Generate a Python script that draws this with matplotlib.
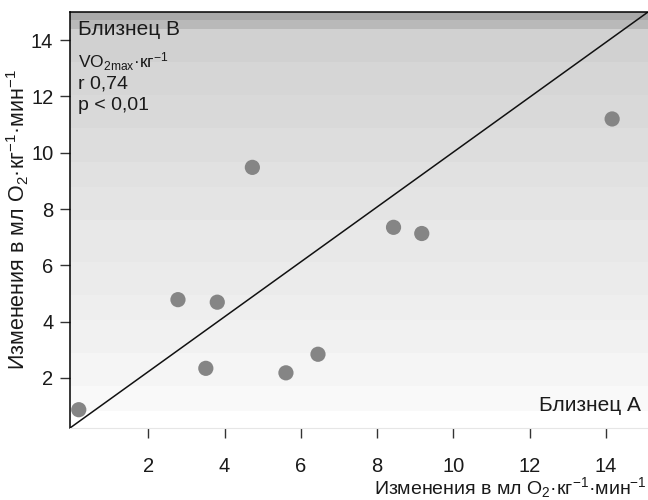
import matplotlib.pyplot as plt
import numpy as np

plt.rcParams['font.family'] = ['Liberation Sans', 'DejaVu Sans']
plt.rcParams['mathtext.fontset'] = 'custom'
plt.rcParams['mathtext.rm'] = 'Liberation Sans'
plt.rcParams['mathtext.it'] = 'Liberation Sans'

# изменения VO2max у близнецов
twin_a = [0.18, 2.78, 3.81, 3.51, 4.73, 5.61, 6.45, 8.43, 9.17, 14.16]
twin_b = [0.87, 4.78, 4.69, 2.34, 9.48, 2.18, 2.84, 7.35, 7.13, 11.2]
ticks = [2, 4, 6, 8, 10, 12, 14]

# полосы фона (границы и оттенки)
band_edges = [0.22, 0.83, 1.72, 2.89, 4.07, 4.95, 6.12, 7.61, 8.79, 9.67,
              10.88, 12.05, 13.23, 14.4, 14.72, 15.0]
band_grays = ['#ffffff', '#f9f9f9', '#f5f5f5', '#f1f1f1', '#eeeeee', '#ebebeb',
              '#e8e8e8', '#e4e4e4', '#e1e1e1', '#dddddd', '#d9d9d9', '#d6d6d6',
              '#d1d1d1', '#b9b9b9', '#a9a9a9']

xmin, xmax = -0.05, 15.1
ymin, ymax = 0.22, 15.0
txt = '#1a1a1a'

fig = plt.figure(figsize=(6.48, 5), dpi=100)
ax = fig.add_axes([70/648, 72/500, 578/648, 416/500])

for i in range(len(band_grays)):
    ax.axhspan(band_edges[i], band_edges[i+1], color=band_grays[i], lw=0, zorder=0)

ax.plot([xmin, xmax], [ymin, ymax], color='#111111', lw=1.1, zorder=2)
ax.scatter(twin_a, twin_b, s=120, c='#858585', edgecolors='none', zorder=3)

ax.set_xlim(xmin, xmax)
ax.set_ylim(ymin, ymax)
ax.set_xticks(ticks)
ax.set_yticks(ticks)
ax.tick_params(axis='both', direction='out', length=7, width=1, color='#333333',
               labelsize=14.5, labelcolor=txt)
ax.tick_params(axis='x', pad=14)
ax.tick_params(axis='y', pad=5)

ax.spines['right'].set_visible(False)
ax.spines['bottom'].set_color('#e6e6e6')
ax.spines['left'].set_linewidth(1.1)
ax.spines['top'].set_linewidth(1.1)

ax.text(0.013, 0.957, 'Близнец В', transform=ax.transAxes, fontsize=15,
        ha='left', va='center', color=txt)
ax.text(0.013, 0.88, r'VO$_{2max}$·кг$^{-1}$', transform=ax.transAxes, fontsize=12.5,
        ha='left', va='center', color=txt)
ax.text(0.013, 0.826, 'r 0,74', transform=ax.transAxes, fontsize=14,
        ha='left', va='center', color=txt)
ax.text(0.013, 0.776, 'p < 0,01', transform=ax.transAxes, fontsize=14,
        ha='left', va='center', color=txt)
ax.text(0.987, 0.055, 'Близнец А', transform=ax.transAxes, fontsize=15,
        ha='right', va='center', color=txt)

ax.set_ylabel(r'Изменения в мл O$_2$·кг$^{-1}$·мин$^{-1}$', fontsize=15.5, color=txt,
              va='center')
ax.yaxis.set_label_coords(-0.09, 0.5)
fig.text(0.998, 0.024, r'Изменения в мл O$_2$·кг$^{-1}$·мин$^{-1}$', fontsize=14,
         ha='right', va='center', color=txt)

plt.savefig('out.png', dpi=100)
